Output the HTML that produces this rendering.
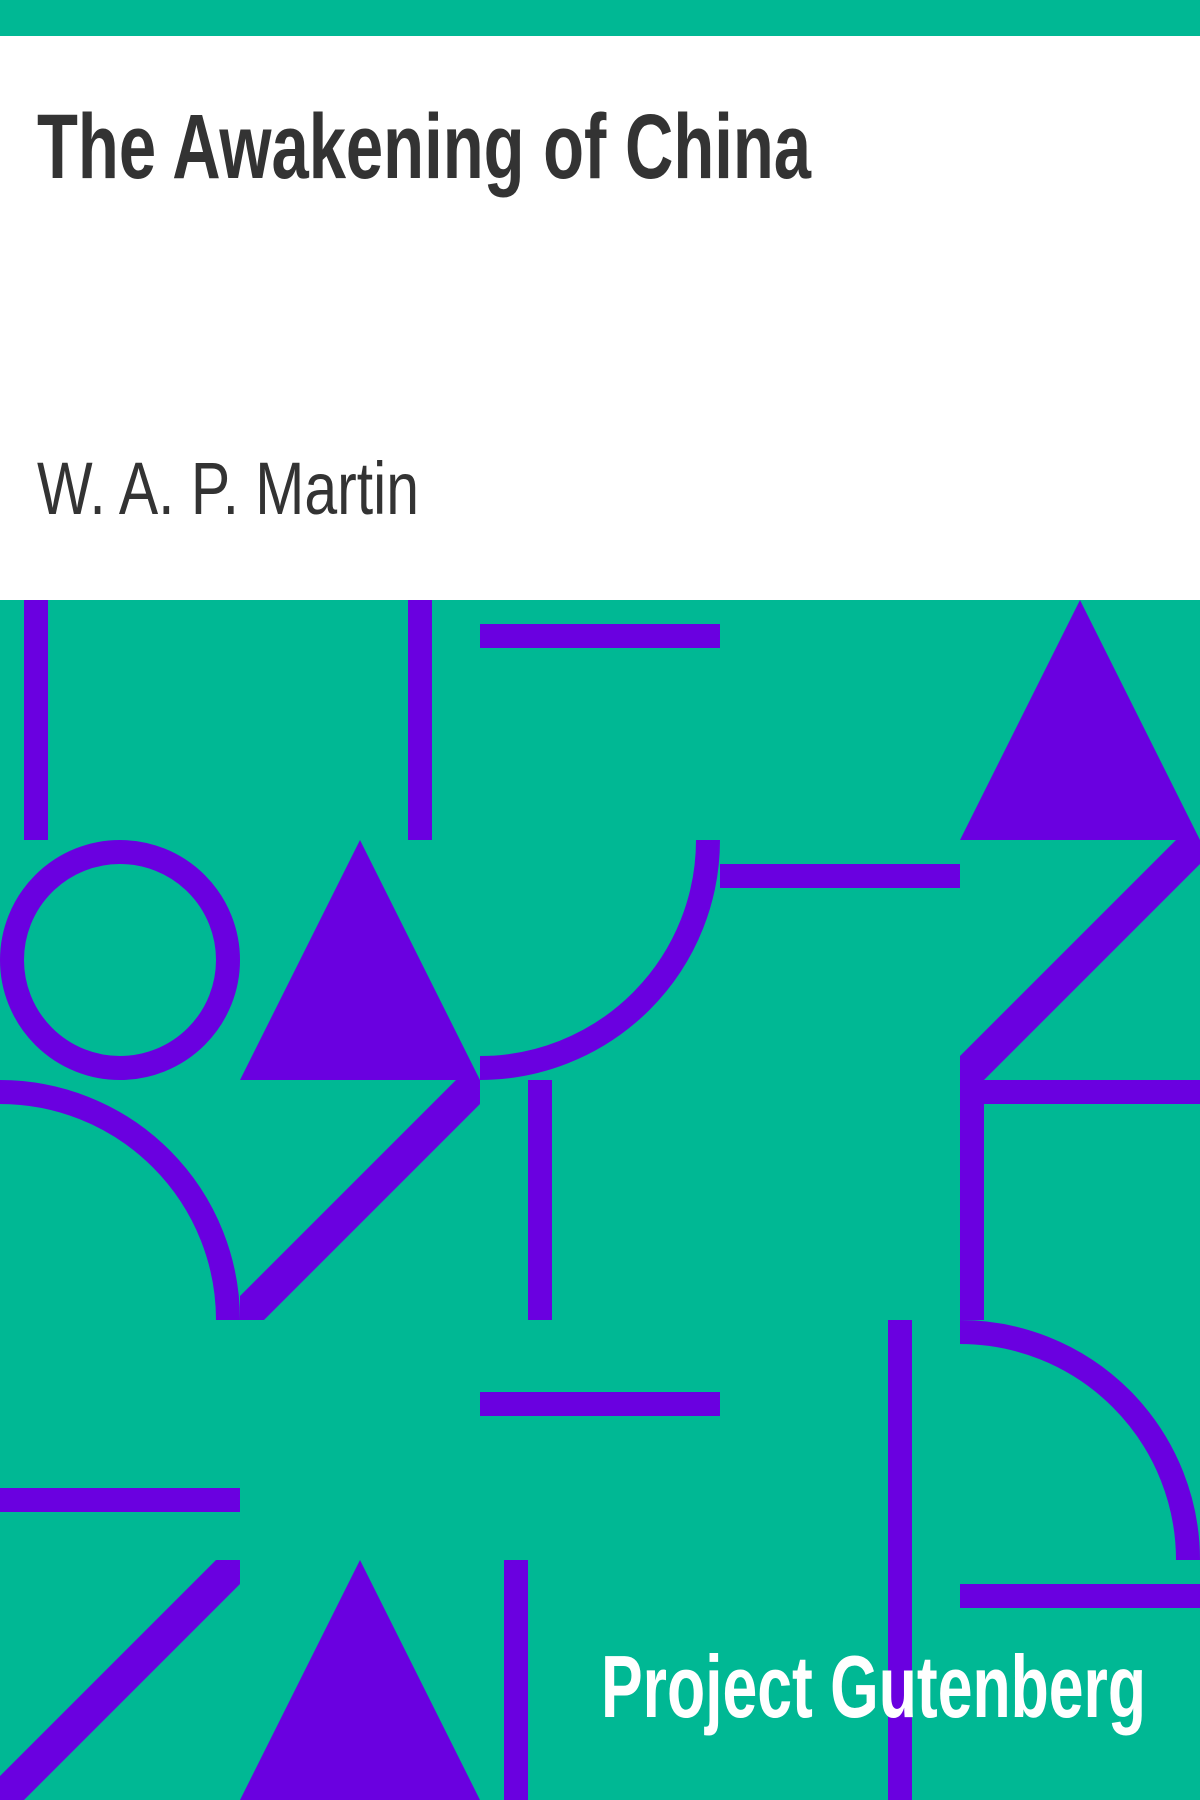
<!DOCTYPE html>
<html><head><meta charset="utf-8"><style>
html,body{margin:0;padding:0;width:1200px;height:1800px;overflow:hidden;background:#fff}
svg{display:block}
</style></head><body>
<svg width="1200" height="1800" viewBox="0 0 1200 1800" xmlns="http://www.w3.org/2000/svg">
<rect x="0" y="0" width="1200" height="36" fill="#00b894"/>
<rect x="0" y="36" width="1200" height="564" fill="#ffffff"/>
<text x="37" y="178" font-family="'Liberation Sans Narrow','Liberation Sans',sans-serif" font-weight="bold" font-size="92" fill="#333" textLength="774" lengthAdjust="spacingAndGlyphs">The Awakening of China</text>
<text x="37" y="514" font-family="'Liberation Sans Narrow','Liberation Sans',sans-serif" font-size="74" fill="#333" textLength="382" lengthAdjust="spacingAndGlyphs">W. A. P. Martin</text>
<g>
<rect x="0" y="600" width="1200" height="1200" fill="#00b894"/>
<g fill="#6a00e0">
<rect x="24" y="600" width="24" height="240"/>
<rect x="408" y="600" width="24" height="240"/>
<rect x="480" y="624" width="240" height="24"/>
<polygon points="1080,600 960,840 1200,840"/>
<polygon points="360,840 240,1080 480,1080"/>
<rect x="720" y="864" width="240" height="24"/>
<polygon points="1176,840 1200,840 1200,864 984,1080 960,1080 960,1056"/>
<polygon points="456,1080 480,1080 480,1104 264,1320 240,1320 240,1296"/>
<rect x="528" y="1080" width="24" height="240"/>
<rect x="960" y="1080" width="24" height="240"/>
<rect x="960" y="1080" width="240" height="24"/>
<rect x="0" y="1488" width="240" height="24"/>
<rect x="480" y="1392" width="240" height="24"/>
<rect x="888" y="1320" width="24" height="480"/>
<polygon points="216,1560 240,1560 240,1584 24,1800 0,1800 0,1776"/>
<polygon points="360,1560 240,1800 480,1800"/>
<rect x="504" y="1560" width="24" height="240"/>
<rect x="960" y="1584" width="240" height="24"/>
</g>
<g fill="none" stroke="#6a00e0" stroke-width="24">
<circle cx="120" cy="960" r="108"/>
<path d="M708,840 A228,228 0 0 1 480,1068"/>
<path d="M0,1092 A228,228 0 0 1 228,1320"/>
<path d="M960,1332 A228,228 0 0 1 1188,1560"/>
</g>
</g>
<text x="1146" y="1717" text-anchor="end" font-family="'Liberation Sans Narrow','Liberation Sans',sans-serif" font-weight="bold" font-size="88" fill="#fff" textLength="545" lengthAdjust="spacingAndGlyphs">Project Gutenberg</text>
</svg>
</body></html>
